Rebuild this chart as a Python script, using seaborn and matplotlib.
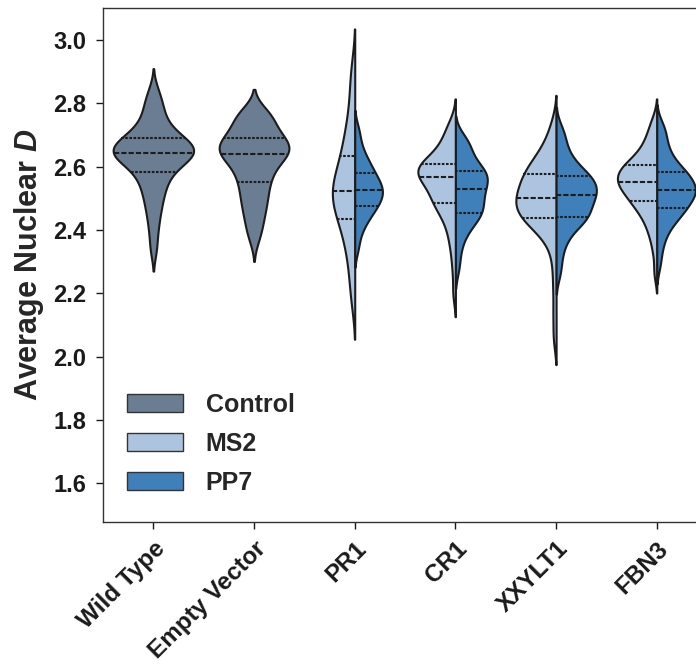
import matplotlib
matplotlib.use("Agg")
import matplotlib.pyplot as plt
import seaborn as sns
import pandas as pd
from matplotlib.patches import Patch

# Categories and colours
order = ["Wild Type", "Empty Vector", "PR1", "CR1", "XXYLT1", "FBN3"]
control_color = "#6b7d93"
ms2_color = "#adc4e0"
pp7_color = "#4080ba"
y_ticks = [1.6, 1.8, 2.0, 2.2, 2.4, 2.6, 2.8, 3.0]

# Control samples
wild_type = [2.34, 2.395, 2.435, 2.465, 2.49, 2.51, 2.53, 2.545, 2.56, 2.575,
             2.585, 2.595, 2.605, 2.612, 2.62, 2.626, 2.632, 2.636, 2.64, 2.641,
             2.643, 2.648, 2.653, 2.658, 2.662, 2.666, 2.67, 2.675, 2.68, 2.688,
             2.694, 2.70, 2.71, 2.72, 2.735, 2.75, 2.77, 2.79, 2.81, 2.84]
empty_vector = [2.37, 2.40, 2.425, 2.445, 2.465, 2.482, 2.497, 2.511, 2.525, 2.545,
                2.553, 2.565, 2.578, 2.59, 2.60, 2.61, 2.618, 2.626, 2.633, 2.639,
                2.641, 2.647, 2.652, 2.657, 2.662, 2.667, 2.672, 2.677, 2.682, 2.688,
                2.696, 2.703, 2.712, 2.722, 2.733, 2.745, 2.755, 2.764, 2.772, 2.775]

# MS2 / PP7 samples per gene
pr1_ms2 = [2.18, 2.25, 2.31, 2.35, 2.385, 2.412, 2.434, 2.455, 2.472, 2.488,
           2.50, 2.512, 2.523, 2.537, 2.553, 2.57, 2.588, 2.607, 2.634, 2.66,
           2.69, 2.725, 2.77, 2.84, 2.91]
pr1_pp7 = [2.34, 2.381, 2.407, 2.424, 2.437, 2.449, 2.458, 2.466, 2.475, 2.482,
           2.489, 2.495, 2.502, 2.508, 2.514, 2.520, 2.526, 2.531, 2.537, 2.543,
           2.550, 2.558, 2.565, 2.572, 2.581, 2.591, 2.600, 2.611, 2.624, 2.637,
           2.657, 2.686, 2.72]
cr1_ms2 = [2.20, 2.275, 2.33, 2.365, 2.395, 2.418, 2.437, 2.452, 2.465, 2.476,
           2.484, 2.49, 2.498, 2.507, 2.516, 2.525, 2.533, 2.541, 2.549, 2.556,
           2.563, 2.570, 2.574, 2.578, 2.582, 2.586, 2.59, 2.594, 2.598, 2.601,
           2.604, 2.61, 2.617, 2.625, 2.634, 2.644, 2.655, 2.668, 2.683, 2.70,
           2.72, 2.74]
cr1_pp7 = [2.28, 2.33, 2.365, 2.39, 2.405, 2.418, 2.43, 2.44, 2.447, 2.453,
           2.46, 2.468, 2.476, 2.484, 2.492, 2.5, 2.508, 2.516, 2.524, 2.532,
           2.539, 2.546, 2.553, 2.56, 2.566, 2.572, 2.577, 2.582, 2.588, 2.596,
           2.605, 2.615, 2.627, 2.64, 2.655, 2.672, 2.68, 2.695]
xxylt1_ms2 = [2.06, 2.14, 2.22, 2.29, 2.345, 2.375, 2.392, 2.404, 2.415, 2.424,
              2.431, 2.437, 2.443, 2.449, 2.455, 2.461, 2.467, 2.473, 2.479, 2.485,
              2.49, 2.495, 2.50, 2.506, 2.513, 2.52, 2.527, 2.534, 2.541, 2.548,
              2.556, 2.563, 2.57, 2.576, 2.583, 2.59, 2.598, 2.607, 2.617, 2.628,
              2.641, 2.656, 2.675, 2.70, 2.74]
xxylt1_pp7 = [2.26, 2.30, 2.335, 2.36, 2.378, 2.393, 2.405, 2.415, 2.423, 2.431,
              2.437, 2.44, 2.443, 2.45, 2.457, 2.464, 2.471, 2.477, 2.483, 2.489,
              2.495, 2.5, 2.505, 2.51, 2.514, 2.519, 2.524, 2.529, 2.534, 2.539,
              2.544, 2.549, 2.554, 2.559, 2.564, 2.569, 2.575, 2.581, 2.588, 2.596,
              2.605, 2.615, 2.627, 2.641, 2.658, 2.68, 2.70, 2.725]
fbn3_ms2 = [2.265, 2.33, 2.37, 2.395, 2.415, 2.432, 2.446, 2.458, 2.468, 2.477,
            2.485, 2.492, 2.499, 2.506, 2.513, 2.519, 2.525, 2.531, 2.537, 2.542,
            2.547, 2.55, 2.554, 2.559, 2.564, 2.569, 2.574, 2.579, 2.584, 2.589,
            2.594, 2.599, 2.603, 2.608, 2.615, 2.623, 2.632, 2.642, 2.653, 2.666,
            2.681, 2.70, 2.72, 2.75]
fbn3_pp7 = [2.29, 2.335, 2.365, 2.388, 2.405, 2.418, 2.429, 2.438, 2.446, 2.453,
            2.46, 2.467, 2.472, 2.478, 2.484, 2.49, 2.496, 2.502, 2.507, 2.512,
            2.517, 2.521, 2.523, 2.527, 2.532, 2.537, 2.542, 2.547, 2.552, 2.558,
            2.564, 2.57, 2.576, 2.579, 2.584, 2.591, 2.599, 2.608, 2.618, 2.629,
            2.642, 2.657, 2.675, 2.695, 2.715, 2.735]

# Long-form tables
ctrl = pd.concat([
    pd.DataFrame({"group": "Wild Type", "D": wild_type}),
    pd.DataFrame({"group": "Empty Vector", "D": empty_vector}),
])
genes = {"PR1": (pr1_ms2, pr1_pp7), "CR1": (cr1_ms2, cr1_pp7),
         "XXYLT1": (xxylt1_ms2, xxylt1_pp7), "FBN3": (fbn3_ms2, fbn3_pp7)}
rows = []
for g, (ms2, pp7) in genes.items():
    rows.append(pd.DataFrame({"group": g, "system": "MS2", "D": ms2}))
    rows.append(pd.DataFrame({"group": g, "system": "PP7", "D": pp7}))
split_df = pd.concat(rows)

sns.set_style("ticks")
plt.rcParams["font.family"] = ["Liberation Sans", "DejaVu Sans"]
plt.rcParams["font.weight"] = "bold"
plt.rcParams["mathtext.fontset"] = "custom"
plt.rcParams["mathtext.bfit"] = "Liberation Sans:italic:bold"

fig = plt.figure(figsize=(6.96, 6.72), dpi=100)
ax = fig.add_axes([0.148, 0.2232, 0.868, 0.7642])

edge = "#1c1c1c"
sns.violinplot(data=ctrl, x="group", y="D", order=order, color=control_color,
               inner="quart", cut=2, bw_adjust=0.68, linewidth=1.5,
               linecolor=edge, saturation=1, ax=ax)
sns.violinplot(data=split_df, x="group", y="D", hue="system", order=order,
               hue_order=["MS2", "PP7"], palette=[ms2_color, pp7_color],
               split=True, inner="quart", cut=2, bw_adjust=0.68, linewidth=1.5,
               density_norm="count", linecolor=edge, saturation=1,
               legend=False, ax=ax)

ax.set_xlim(-0.5, 5.5)
ax.set_ylim(1.477, 3.1)
ax.set_yticks(y_ticks)
ax.set_yticklabels([f"{v:.1f}" for v in y_ticks])
ax.set_xlabel("")
ax.set_ylabel(r"Average Nuclear $\mathbfit{D}$", fontsize=22, fontweight="bold",
              labelpad=5)
ax.tick_params(axis="both", labelsize=17, width=1, length=5, colors="#1a1a1a")
ax.tick_params(axis="y", pad=7)
ax.tick_params(axis="x", pad=6, labelsize=17.5)
plt.setp(ax.get_xticklabels(), rotation=45, ha="right", rotation_mode="anchor",
         fontweight="bold")
plt.setp(ax.get_yticklabels(), fontweight="bold")
for s in ax.spines.values():
    s.set_linewidth(1.0)
    s.set_color("#333333")

handles = [Patch(facecolor=control_color, edgecolor="#333333", label="Control"),
           Patch(facecolor=ms2_color, edgecolor="#333333", label="MS2"),
           Patch(facecolor=pp7_color, edgecolor="#333333", label="PP7")]
ax.legend(handles=handles, loc="center left", bbox_to_anchor=(0.04, 0.152),
          frameon=False, prop={"size": 18, "weight": "bold"}, borderpad=0,
          borderaxespad=0, handlelength=2.24, handleheight=0.72,
          labelspacing=0.6, handletextpad=0.9)

fig.savefig("out.png", dpi=100)
